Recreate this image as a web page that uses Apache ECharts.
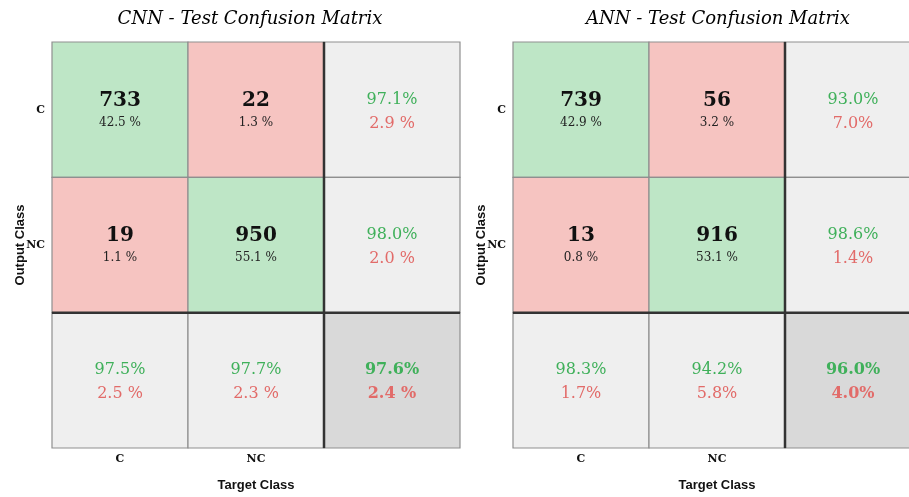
<!DOCTYPE html>
<html>
<head>
<meta charset="utf-8">
<script src="https://cdn.jsdelivr.net/npm/echarts@6/dist/echarts.min.js"></script>
<style>
html, body { margin: 0; padding: 0; background: #fff; overflow: hidden; }
#myChart { width: 921px; height: 497px; }
</style>
</head>
<body>
<div id="myChart"></div>
<script>
// class labels (rows = output class, cols = target class)
const classes = ['C', 'NC']
const titles = ['CNN - Test Confusion Matrix', 'ANN - Test Confusion Matrix']

// CNN
const cnnCounts = [[733, 22], [19, 950]]
const cnnCellPct = [[42.5, 1.3], [1.1, 55.1]]
const cnnRowOk = [97.1, 98.0]
const cnnRowErr = [2.9, 2.0]
const cnnColOk = [97.5, 97.7]
const cnnColErr = [2.5, 2.3]
const cnnTotal = [97.6, 2.4]

// ANN
const annCounts = [[739, 56], [13, 916]]
const annCellPct = [[42.9, 3.2], [0.8, 53.1]]
const annRowOk = [93.0, 98.6]
const annRowErr = [7.0, 1.4]
const annColOk = [98.3, 94.2]
const annColErr = [1.7, 5.8]
const annTotal = [96.0, 4.0]

const SERIF = '"DejaVu Serif", serif'
const SANS = '"Liberation Sans", Arial, sans-serif'
const GREEN_TXT = '#3fb05a'
const RED_TXT = '#e26b69'

function pct(v, sep) {
  return v.toFixed(1) + sep + '%'
}

// build cell list for one matrix
function buildCells(counts, cellPct, rowOk, rowErr, colOk, colErr, total, errSep) {
  let cells = []
  for (let r = 0; r < 2; r++) {
    for (let c = 0; c < 2; c++) {
      cells.push({ x: c, y: r, kind: r === c ? 'ok' : 'bad', a: String(counts[r][c]), b: pct(cellPct[r][c], ' ') })
    }
    cells.push({ x: 2, y: r, kind: 'sum', a: pct(rowOk[r], ''), b: pct(rowErr[r], errSep) })
  }
  for (let c = 0; c < 2; c++) {
    cells.push({ x: c, y: 2, kind: 'sum', a: pct(colOk[c], ''), b: pct(colErr[c], errSep) })
  }
  cells.push({ x: 2, y: 2, kind: 'total', a: pct(total[0], ''), b: pct(total[1], errSep) })
  return cells
}

const matrices = [
  buildCells(cnnCounts, cnnCellPct, cnnRowOk, cnnRowErr, cnnColOk, cnnColErr, cnnTotal, ' '),
  buildCells(annCounts, annCellPct, annRowOk, annRowErr, annColOk, annColErr, annTotal, '')
]

const fills = { ok: '#bee6c6', bad: '#f6c4c1', sum: '#efefef', total: '#d9d9d9' }

function cellRenderer(cells) {
  return function (params, api) {
    const cell = cells[params.dataIndex]
    const p = api.coord([api.value(0), api.value(1)])
    const s = api.size([1, 1])
    const children = [{
      type: 'rect',
      shape: { x: p[0] - s[0] / 2, y: p[1] - s[1] / 2, width: s[0], height: s[1] },
      style: { fill: fills[cell.kind], stroke: '#8f8f8f', lineWidth: 1.2 }
    }]
    if (cell.kind === 'ok' || cell.kind === 'bad') {
      children.push({
        type: 'text', x: p[0], y: p[1] - 9,
        style: { text: cell.a, align: 'center', verticalAlign: 'middle', font: 'bold 20px ' + SERIF, fill: '#111' }
      })
      children.push({
        type: 'text', x: p[0], y: p[1] + 13,
        style: { text: cell.b, align: 'center', verticalAlign: 'middle', font: '12px ' + SERIF, fill: '#222' }
      })
    } else {
      const w = cell.kind === 'total' ? 'bold ' : ''
      children.push({
        type: 'text', x: p[0], y: p[1] - 10,
        style: { text: cell.a, align: 'center', verticalAlign: 'middle', font: w + '16px ' + SERIF, fill: GREEN_TXT }
      })
      children.push({
        type: 'text', x: p[0], y: p[1] + 14,
        style: { text: cell.b, align: 'center', verticalAlign: 'middle', font: w + '16px ' + SERIF, fill: RED_TXT }
      })
    }
    return { type: 'group', children: children }
  }
}

// thick separators between the confusion block and the summary row/column
function dividerRenderer(params, api) {
  const p = api.coord([api.value(0), api.value(1)])
  const s = api.size([1, 1])
  const cs = params.coordSys
  const vx = p[0] + s[0] / 2
  const hy = p[1] + s[1] / 2
  return {
    type: 'group',
    children: [
      { type: 'line', shape: { x1: vx, y1: cs.y, x2: vx, y2: cs.y + cs.height }, style: { stroke: '#333', lineWidth: 2.5 } },
      { type: 'line', shape: { x1: cs.x, y1: hy, x2: cs.x + cs.width, y2: hy }, style: { stroke: '#333', lineWidth: 2.5 } }
    ]
  }
}

const gridLefts = [52, 513]
const titleCenters = [245, 713]

let option = {
  animation: false,
  backgroundColor: '#fff',
  title: titles.map((t, i) => ({
    text: t, left: titleCenters[i], top: 5, textAlign: 'center',
    textStyle: { fontFamily: SERIF, fontStyle: 'italic', fontWeight: 'normal', fontSize: 18, color: '#000' }
  })),
  grid: gridLefts.map(l => ({ left: l, top: 42, width: 408, height: 408 })),
  xAxis: [0, 1].map(i => ({
    type: 'category', gridIndex: i, data: classes.concat(['']),
    name: 'Target Class', nameLocation: 'middle', nameGap: 31, nameMoveOverlap: false,
    nameTextStyle: { fontFamily: SANS, fontWeight: 'bold', fontSize: 13, color: '#111' },
    axisLine: { show: false }, axisTick: { show: false }, splitLine: { show: false },
    axisLabel: { margin: 6, fontFamily: SERIF, fontWeight: 'bold', fontSize: 11, color: '#111' }
  })),
  yAxis: [0, 1].map(i => ({
    type: 'category', gridIndex: i, inverse: true, data: classes.concat(['']),
    name: 'Output Class', nameLocation: 'middle', nameGap: 25, nameMoveOverlap: false,
    nameTextStyle: { fontFamily: SANS, fontWeight: 'bold', fontSize: 13, color: '#111' },
    axisLine: { show: false }, axisTick: { show: false }, splitLine: { show: false },
    axisLabel: { margin: 7, fontFamily: SERIF, fontWeight: 'bold', fontSize: 11, color: '#111' }
  })),
  series: []
}

matrices.forEach((cells, i) => {
  option.series.push({
    type: 'custom', xAxisIndex: i, yAxisIndex: i,
    renderItem: cellRenderer(cells),
    data: cells.map(c => [c.x, c.y])
  })
  option.series.push({
    type: 'custom', xAxisIndex: i, yAxisIndex: i,
    renderItem: dividerRenderer,
    data: [[1, 1]]
  })
})

let myChart = echarts.init(document.getElementById('myChart'))
myChart.setOption(option)
</script>
</body>
</html>
